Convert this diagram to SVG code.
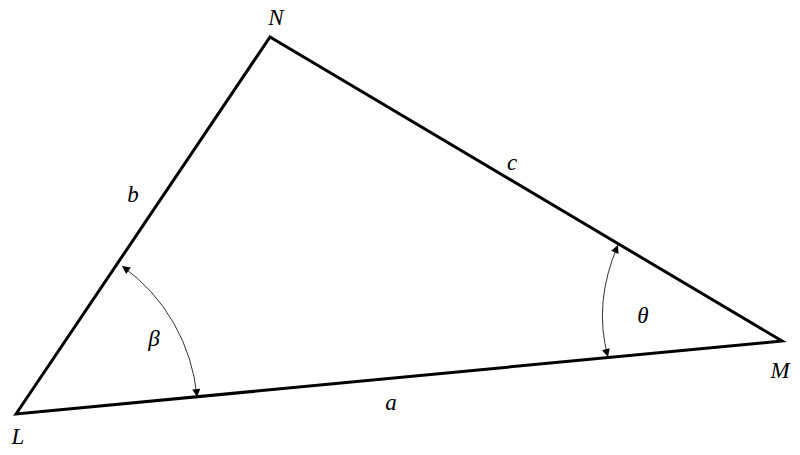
<svg xmlns="http://www.w3.org/2000/svg" width="800" height="455" viewBox="0 0 800 455">
<style>
.lbl{font-family:"Liberation Serif","DejaVu Serif",serif;font-style:italic;font-size:23px;fill:#000;text-anchor:middle}
.side{fill:none;stroke:#000;stroke-width:3;stroke-linejoin:miter}
.arc{fill:none;stroke:#333;stroke-width:1}
</style>
<defs>
<marker id="ah" viewBox="0 0 10 10" refX="10" refY="5" markerWidth="10" markerHeight="8" markerUnits="userSpaceOnUse" orient="auto-start-reverse">
<path d="M0,0 L10,5 L0,10 z" fill="#000"/>
</marker>
</defs>
<g id="triangle">
<polygon class="side" points="16,414 270,37 782,341"/>
</g>
<g id="connectors">
<path class="arc" d="M122,266 A181,181 0 0 1 197,397" marker-start="url(#ah)" marker-end="url(#ah)"/>
<path class="arc" d="M618,245 Q593,303 608,357" marker-start="url(#ah)" marker-end="url(#ah)"/>
</g>
<g id="labels">
<text class="lbl" x="276" y="25">N</text>
<text class="lbl" x="18" y="444">L</text>
<text class="lbl" x="780" y="378">M</text>
<text class="lbl" x="133" y="202">b</text>
<text class="lbl" x="512" y="170">c</text>
<text class="lbl" x="391" y="410">a</text>
<text class="lbl" x="154" y="346">β</text>
<text class="lbl" x="643" y="323">θ</text>
</g>
</svg>
